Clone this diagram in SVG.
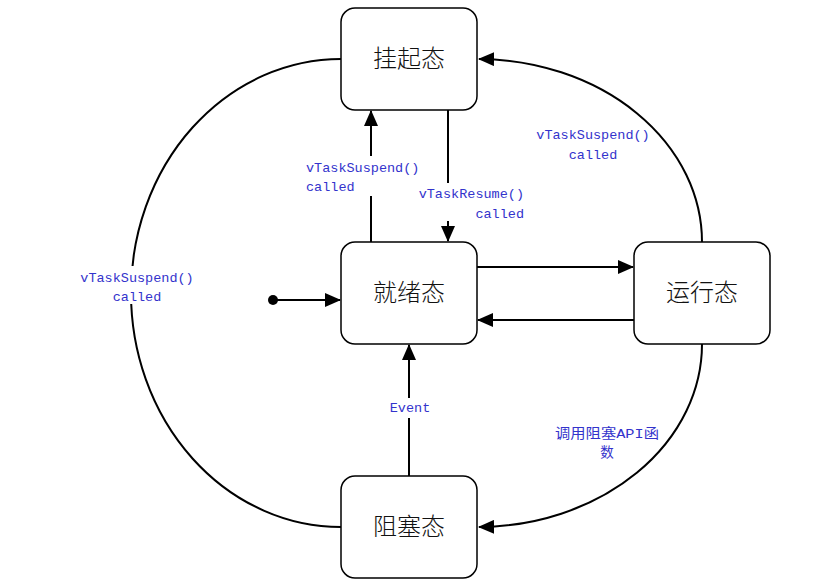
<svg xmlns="http://www.w3.org/2000/svg" width="840" height="587" viewBox="0 0 840 587">
<defs>
<marker id="arr" markerWidth="16" markerHeight="14" refX="15" refY="7" orient="auto" markerUnits="userSpaceOnUse">
<path d="M0,0 L16,7 L0,14 Z" fill="#000"/>
</marker>
<style>
.node rect{fill:#fff;stroke:#000;stroke-width:1.5}
.node text{font-family:"Noto Sans CJK SC","Noto Sans",sans-serif;font-size:24px;font-weight:300;fill:#111;text-anchor:middle}
.edge{fill:none;stroke:#000;stroke-width:2}
.lbl{font-family:"Liberation Mono","Noto Sans CJK SC",monospace;font-size:13.5px;fill:#3333cc}
.bg{fill:#fff}
</style>
</defs>
<rect width="840" height="587" fill="#fff"/>
<g id="connectors">
<path class="edge" d="M341,59 A210,234 0 0 0 341,527"/>
<path class="edge" d="M702,242 A225,183 0 0 0 479,59" marker-end="url(#arr)"/>
<path class="edge" d="M702,344 A225,183 0 0 1 479,527" marker-end="url(#arr)"/>
<path class="edge" d="M371,242 L371,111" marker-end="url(#arr)"/>
<path class="edge" d="M448,110 L448,241" marker-end="url(#arr)"/>
<path class="edge" d="M477,267 L633,267" marker-end="url(#arr)"/>
<path class="edge" d="M634,320 L478,320" marker-end="url(#arr)"/>
<path class="edge" d="M409,476 L409,345" marker-end="url(#arr)"/>
<circle cx="273" cy="300" r="5" fill="#000"/>
<path class="edge" d="M273,300 L340,300" marker-end="url(#arr)"/>
<rect class="bg" x="302" y="156" width="120" height="40"/>
<text class="lbl" x="306" y="172">vTaskSuspend()</text>
<text class="lbl" x="306" y="191">called</text>
<rect class="bg" x="414" y="183" width="112" height="38"/>
<text class="lbl" x="524" y="198" text-anchor="end">vTaskResume()</text>
<text class="lbl" x="524" y="218" text-anchor="end">called</text>
<rect class="bg" x="78" y="266" width="118" height="38"/>
<text class="lbl" x="137" y="282" text-anchor="middle">vTaskSuspend()</text>
<text class="lbl" x="137" y="301" text-anchor="middle">called</text>
<text class="lbl" x="593" y="139" text-anchor="middle">vTaskSuspend()</text>
<text class="lbl" x="593" y="159" text-anchor="middle">called</text>
<rect class="bg" x="388" y="398" width="44" height="20"/>
<text class="lbl" x="410" y="412" text-anchor="middle">Event</text>
<text class="lbl" x="555" y="438" textLength="104" lengthAdjust="spacingAndGlyphs">调用阻塞API函</text>
<text class="lbl" x="607" y="457" text-anchor="middle">数</text>
</g>
<g id="suspended" class="node"><rect x="341" y="8" width="136" height="102" rx="14"/><text x="409" y="67">挂起态</text></g>
<g id="ready" class="node"><rect x="341" y="242" width="136" height="102" rx="14"/><text x="409" y="301">就绪态</text></g>
<g id="running" class="node"><rect x="634" y="242" width="136" height="102" rx="14"/><text x="702" y="301">运行态</text></g>
<g id="blocked" class="node"><rect x="341" y="476" width="136" height="102" rx="14"/><text x="409" y="535">阻塞态</text></g>
</svg>
